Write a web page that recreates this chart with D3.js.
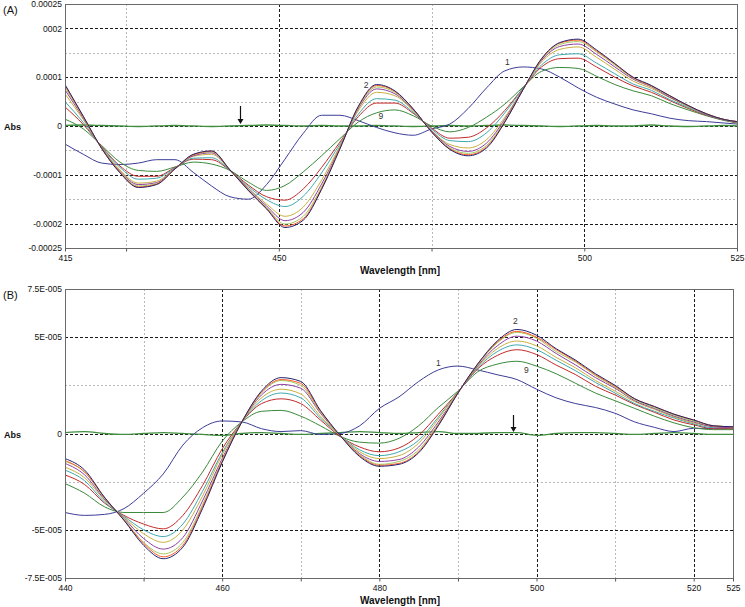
<!DOCTYPE html>
<html><head><meta charset="utf-8">
<script src="https://cdn.jsdelivr.net/npm/d3@7"></script>
<style>html,body{margin:0;padding:0;background:#fff;} svg{display:block;font-family:"Liberation Sans",Arial,sans-serif;}</style>
</head><body><svg id="c" width="745" height="607"></svg>
<script>
// ---------- DATA (absorbance values in units of 1e-5) ----------
// Panel A
const wlA = [415,418,421,424,427,430,433,436,439,442,445,448,451,454,457,460,463,466,469,472,475,478,481,484,487,490,493,496,499,502,505,508,511,514,517,520,523,525];
const a1 = [-3.7,-5.8,-7.6,-7.9,-7.6,-6.9,-6.9,-9.5,-12.3,-14.5,-15.0,-12.0,-6.8,-1.5,2.2,2.2,1.1,-0.3,-1.4,-1.9,-0.6,0.4,3.6,7.8,11.3,12.1,11.7,10.0,7.8,5.9,4.5,3.3,2.5,1.6,1.1,0.9,0.6,0.4];
const a2 = [8.5,2.0,-4.6,-9.6,-12.6,-12.0,-8.8,-5.8,-5.1,-9.0,-13.2,-17.0,-20.8,-19.3,-13.0,-4.7,4.0,8.5,7.2,3.5,-1.2,-4.8,-6.1,-4.5,0.8,7.5,13.8,17.1,17.8,15.6,12.8,10.0,8.3,6.2,4.2,2.5,1.3,0.9];
const a3 = [8.3,1.9,-4.6,-9.5,-12.5,-11.9,-8.8,-5.9,-5.2,-9.0,-13.2,-16.9,-20.5,-19.0,-12.8,-4.6,3.9,8.3,7.1,3.5,-1.2,-4.7,-5.9,-4.3,0.9,7.5,13.7,17.0,17.6,15.4,12.7,9.9,8.2,6.2,4.2,2.5,1.3,0.9];
const a4 = [7.9,1.8,-4.6,-9.4,-12.3,-11.8,-8.8,-5.9,-5.3,-9.0,-13.1,-16.7,-20.1,-18.5,-12.5,-4.5,3.7,8.0,6.9,3.4,-1.1,-4.5,-5.6,-4.0,1.1,7.5,13.6,16.7,17.3,15.2,12.5,9.8,8.1,6.1,4.1,2.5,1.3,0.9];
const a5 = [7.4,1.6,-4.5,-9.3,-12.0,-11.6,-8.7,-6.1,-5.5,-9.0,-12.9,-16.4,-19.4,-17.7,-11.9,-4.4,3.5,7.6,6.6,3.3,-1.0,-4.2,-5.2,-3.5,1.4,7.6,13.4,16.3,16.8,14.7,12.1,9.6,8.0,5.9,4.1,2.4,1.3,0.9];
const a6 = [6.6,1.3,-4.4,-9.0,-11.7,-11.3,-8.7,-6.2,-5.8,-9.0,-12.7,-16.0,-18.5,-16.6,-11.1,-4.1,3.1,6.9,6.2,3.1,-0.9,-3.8,-4.5,-2.8,1.8,7.6,13.1,15.7,16.2,14.1,11.6,9.2,7.7,5.8,4.0,2.4,1.3,0.8];
const a7 = [5.0,0.7,-4.3,-8.5,-10.9,-10.7,-8.6,-6.6,-6.5,-9.1,-12.4,-15.1,-16.5,-14.4,-9.6,-3.7,2.4,5.6,5.3,2.8,-0.6,-3.0,-3.2,-1.4,2.7,7.8,12.5,14.6,14.8,12.9,10.7,8.6,7.3,5.4,3.8,2.3,1.2,0.8];
const a8 = [3.9,0.3,-4.2,-8.2,-10.3,-10.3,-8.5,-6.8,-6.9,-9.1,-12.1,-14.5,-15.2,-12.9,-8.5,-3.3,1.9,4.7,4.7,2.6,-0.4,-2.5,-2.3,-0.4,3.2,7.8,12.1,13.8,13.9,12.1,10.0,8.2,6.9,5.2,3.6,2.2,1.2,0.7];
const a9 = [1.4,-0.6,-4.0,-7.4,-9.1,-9.3,-8.4,-7.4,-7.8,-9.1,-11.5,-13.2,-12.2,-9.4,-6.1,-2.6,0.8,2.7,3.3,2.1,0.0,-1.2,-0.3,1.8,4.5,8.0,11.2,12.0,11.8,10.2,8.5,7.2,6.2,4.6,3.3,2.1,1.1,0.6];
const aBase = [0.1,0.2,0.1,0.0,-0.1,0.0,0.1,0.0,-0.1,0.0,0.1,0.2,0.1,0.0,0.1,0.0,0.0,0.1,0.0,-0.1,0.0,0.1,0.0,0.1,0.2,0.1,0.0,-0.1,0.0,0.1,0.0,0.0,0.2,0.0,-0.1,0.0,0.1,0.0];

// Panel B
const wlB = [440,442.5,445,447.5,450,452.5,455,457.5,460,462.5,465,467.5,470,472.5,475,477.5,480,482.5,485,487.5,490,492.5,495,497.5,500,502.5,505,507.5,510,512.5,515,517.5,520,522.5,525];
const b1 = [-4.1,-4.25,-4.2,-3.9,-3.1,-2.1,-0.6,0.3,0.65,0.6,0.25,0.1,0.15,-0.05,0.0,0.4,1.3,1.9,2.7,3.3,3.5,3.3,3.05,2.8,2.3,1.85,1.55,1.35,1.05,0.6,0.32,0.1,0.27,0.27,0.27];
const b2 = [-1.3,-1.9,-3.3,-4.5,-5.8,-6.5,-5.9,-3.9,-1.5,0.6,2.2,2.9,2.7,1.2,-0.1,-1.2,-1.7,-1.6,-1.0,0.4,2.1,3.6,4.8,5.4,5.1,4.4,3.8,3.1,2.5,1.8,1.4,1.0,0.7,0.4,0.35];
const b3 = [-1.4,-2.0,-3.3,-4.5,-5.7,-6.4,-5.8,-3.8,-1.45,0.6,2.15,2.8,2.6,1.15,-0.1,-1.15,-1.65,-1.55,-0.95,0.45,2.1,3.6,4.75,5.3,5.0,4.35,3.75,3.05,2.45,1.8,1.4,1.0,0.7,0.4,0.35];
const b4 = [-1.45,-2.0,-3.35,-4.45,-5.65,-6.25,-5.65,-3.7,-1.4,0.6,2.1,2.75,2.5,1.1,-0.1,-1.1,-1.6,-1.45,-0.85,0.5,2.1,3.55,4.7,5.25,4.95,4.25,3.7,3.0,2.4,1.75,1.35,0.95,0.65,0.4,0.35];
const b5 = [-1.55,-2.15,-3.4,-4.4,-5.45,-6.0,-5.4,-3.5,-1.3,0.6,2.0,2.55,2.35,1.05,-0.1,-1.05,-1.45,-1.35,-0.7,0.6,2.1,3.5,4.55,5.05,4.8,4.15,3.55,2.9,2.35,1.7,1.3,0.9,0.6,0.35,0.3];
const b6 = [-1.75,-2.3,-3.45,-4.35,-5.2,-5.65,-5.0,-3.25,-1.1,0.6,1.85,2.3,2.05,0.9,-0.1,-0.95,-1.3,-1.15,-0.5,0.75,2.15,3.45,4.4,4.8,4.55,3.95,3.4,2.75,2.2,1.65,1.25,0.85,0.55,0.35,0.3];
const b7 = [-1.9,-2.45,-3.55,-4.3,-5.0,-5.35,-4.7,-3.0,-1.0,0.6,1.7,2.1,1.85,0.8,-0.1,-0.85,-1.15,-0.95,-0.35,0.85,2.15,3.4,4.25,4.6,4.35,3.8,3.25,2.65,2.1,1.55,1.15,0.8,0.5,0.3,0.3];
const b8 = [-2.15,-2.65,-3.6,-4.25,-4.7,-4.95,-4.25,-2.7,-0.8,0.6,1.55,1.8,1.55,0.7,-0.15,-0.7,-0.95,-0.75,-0.1,1.0,2.15,3.35,4.05,4.35,4.1,3.55,3.05,2.45,2.0,1.5,1.1,0.7,0.45,0.25,0.25];
const b9 = [-2.6,-3.1,-3.8,-4.1,-4.1,-4.1,-3.3,-2.0,-0.4,0.6,1.15,1.2,0.9,0.4,-0.15,-0.45,-0.5,-0.25,0.4,1.35,2.2,3.2,3.6,3.75,3.5,3.1,2.6,2.1,1.7,1.3,0.9,0.55,0.3,0.2,0.2];
const bBase = [0.05,0.1,0.0,-0.05,0.0,0.05,0.0,-0.05,-0.1,0.0,0.05,0.0,-0.05,0.0,0.05,0.1,0.05,0.0,0.05,0.1,0.0,0.0,0.05,0.05,-0.1,0.0,0.05,0.05,0.0,-0.05,0.0,0.05,0.0,-0.05,-0.05];

// tick labels
const xTicksA = [415,450,500,525];
const yTickValsA = [25,20,10,0,-10,-20,-25];
const yTickLabelsA = ["0.00025","0002","0.0001","0","-0.0001","-0.0002","-0.00025"];
const xTicksB = [440,460,480,500,520,525];
const yTickValsB = [7.5,5,0,-5,-7.5];
const yTickLabelsB = ["7.5E-005","5E-005","0","-5E-005","-7.5E-005"];

// curve annotations [text, wavelength, value]
const notesA = [["1",487.4,13.1],["2",464.3,8.4],["9",466.7,2.0]];
const notesB = [["1",487.5,3.66],["2",497.3,5.84],["9",498.7,3.3]];

// ---------- STYLE ----------
const colorBase = "#3f8f3f";
const colors = {c1:"#3d3d99", c2:"#23236e", c3:"#ff5a28", c4:"#a3c85e", c5:"#9040a4", c6:"#c8b040", c7:"#3fa9b0", c8:"#c42a2a", c9:"#3a8a3a"};

const svg = d3.select("#c");

function panel(cfg) {
  const x = d3.scaleLinear().domain(cfg.xDomain).range([cfg.x0, cfg.x1]);
  const y = d3.scaleLinear().domain(cfg.yDomain).range([cfg.y1, cfg.y0]);
  const g = svg.append("g");
  const clipId = "clip" + cfg.id;
  g.append("clipPath").attr("id", clipId).append("rect")
    .attr("x", cfg.x0).attr("y", cfg.y0).attr("width", cfg.x1 - cfg.x0).attr("height", cfg.y1 - cfg.y0);

  // grid
  cfg.xMinor.forEach(v => g.append("line").attr("x1", Math.round(x(v))+0.5).attr("x2", Math.round(x(v))+0.5)
    .attr("y1", cfg.y0).attr("y2", cfg.y1).attr("stroke", "#b8b8b8").attr("stroke-dasharray", "2,2"));
  cfg.yMinor.forEach(v => g.append("line").attr("y1", Math.round(y(v))+0.5).attr("y2", Math.round(y(v))+0.5)
    .attr("x1", cfg.x0).attr("x2", cfg.x1).attr("stroke", "#b8b8b8").attr("stroke-dasharray", "2,2"));
  cfg.xMajor.forEach(v => g.append("line").attr("x1", Math.round(x(v))+0.5).attr("x2", Math.round(x(v))+0.5)
    .attr("y1", cfg.y0).attr("y2", cfg.y1).attr("stroke", "#1a1a1a").attr("stroke-dasharray", "3,2"));
  cfg.yMajor.forEach(v => g.append("line").attr("y1", Math.round(y(v))+0.5).attr("y2", Math.round(y(v))+0.5)
    .attr("x1", cfg.x0).attr("x2", cfg.x1).attr("stroke", "#1a1a1a").attr("stroke-dasharray", "3,2"));

  // curves
  const line = d3.line().x((d, i) => x(cfg.wl[i])).y(d => y(d)).curve(d3.curveMonotoneX);
  const lg = g.append("g").attr("clip-path", `url(#${clipId})`);
  cfg.series.forEach(s => {
    lg.append("path").attr("d", line(s.values)).attr("fill", "none")
      .attr("stroke", s.color).attr("stroke-width", s.width || 1).attr("stroke-linejoin", "round");
  });

  // frame
  g.append("rect").attr("x", cfg.x0 + 0.5).attr("y", cfg.y0 + 0.5)
    .attr("width", cfg.x1 - cfg.x0).attr("height", cfg.y1 - cfg.y0)
    .attr("fill", "none").attr("stroke", "#6a6a6a");

  // axes
  const ax = g.append("g").attr("transform", `translate(0,${cfg.y1 + 0.5})`)
    .call(d3.axisBottom(x).tickValues(cfg.xTicks.concat(cfg.xMinor)).tickSize(3)
      .tickFormat(d => cfg.xTicks.includes(d) ? String(d) : "").tickPadding(3));
  ax.select(".domain").remove();
  ax.selectAll("line").attr("stroke", "#555");
  ax.selectAll("text").attr("font-size", "8.5px").attr("fill", "#111").attr("font-family", "Liberation Sans, Arial, sans-serif");

  const ay = g.append("g").attr("transform", `translate(${cfg.x0},0)`)
    .call(d3.axisLeft(y).tickValues(cfg.yTickVals).tickSize(0).tickPadding(3)
      .tickFormat((d, i) => cfg.yTickLabels[i]));
  ay.select(".domain").remove();
  ay.selectAll("text").attr("font-size", "8.5px").attr("fill", "#111").attr("font-family", "Liberation Sans, Arial, sans-serif");

  // titles
  g.append("text").attr("x", cfg.x0 + 335).attr("y", cfg.y1 + 26).attr("text-anchor", "middle")
    .attr("font-size", "10px").attr("font-weight", "bold").attr("fill", "#111").text("Wavelength [nm]");
  g.append("text").attr("x", 4).attr("y", y(0) + 4).attr("font-size", "9px").attr("font-weight", "bold")
    .attr("fill", "#111").text("Abs");
  g.append("text").attr("x", 3).attr("y", cfg.y0 + 10).attr("font-size", "11px").attr("fill", "#111").text(cfg.title);

  // notes
  cfg.notes.forEach(n => g.append("text").attr("x", x(n[1])).attr("y", y(n[2]) + 3)
    .attr("text-anchor", "middle").attr("font-size", "8.5px").attr("fill", "#333").text(n[0]));

  // arrow
  const ax0 = Math.round(x(cfg.arrow[0])) + 0.5;
  g.append("line").attr("x1", ax0).attr("x2", ax0).attr("y1", y(cfg.arrow[1])).attr("y2", y(cfg.arrow[2]) - 3)
    .attr("stroke", "#111").attr("stroke-width", 1.2);
  const ty = y(cfg.arrow[2]);
  g.append("path").attr("d", `M${ax0-3},${ty-5}L${ax0+3},${ty-5}L${ax0},${ty}Z`).attr("fill", "#111");
}

function makeSeries(base, c1, rest) {
  const s = [{values: base, color: colorBase, width: 1.3}, {values: c1, color: colors.c1}];
  return s.concat(rest);
}

panel({
  id: "A", title: "(A)", x0: 65, x1: 737, y0: 4, y1: 248,
  xDomain: [415, 525], yDomain: [-25, 25], wl: wlA,
  xTicks: xTicksA, xMajor: [450, 500], xMinor: [425, 475],
  yTickVals: yTickValsA, yTickLabels: yTickLabelsA, yMajor: [20, 10, 0, -10, -20], yMinor: [15, 5, -5, -15],
  series: makeSeries(aBase, a1, [
    {values: a9, color: colors.c9}, {values: a8, color: colors.c8}, {values: a7, color: colors.c7},
    {values: a6, color: colors.c6}, {values: a5, color: colors.c5}, {values: a4, color: colors.c4},
    {values: a3, color: colors.c3}, {values: a2, color: colors.c2}]),
  notes: notesA, arrow: [443.6, 4.1, 0.4]
});

panel({
  id: "B", title: "(B)", x0: 65, x1: 733, y0: 289, y1: 578,
  xDomain: [440, 525], yDomain: [-7.5, 7.5], wl: wlB,
  xTicks: xTicksB, xMajor: [460, 480, 500, 520], xMinor: [450, 470, 490, 510],
  yTickVals: yTickValsB, yTickLabels: yTickLabelsB, yMajor: [5, 0, -5], yMinor: [2.5, -2.5],
  series: makeSeries(bBase, b1, [
    {values: b9, color: colors.c9}, {values: b8, color: colors.c8}, {values: b7, color: colors.c7},
    {values: b6, color: colors.c6}, {values: b5, color: colors.c5}, {values: b4, color: colors.c4},
    {values: b3, color: colors.c3}, {values: b2, color: colors.c2}]),
  notes: notesB, arrow: [497.0, 0.96, 0.08]
});
</script></body></html>
